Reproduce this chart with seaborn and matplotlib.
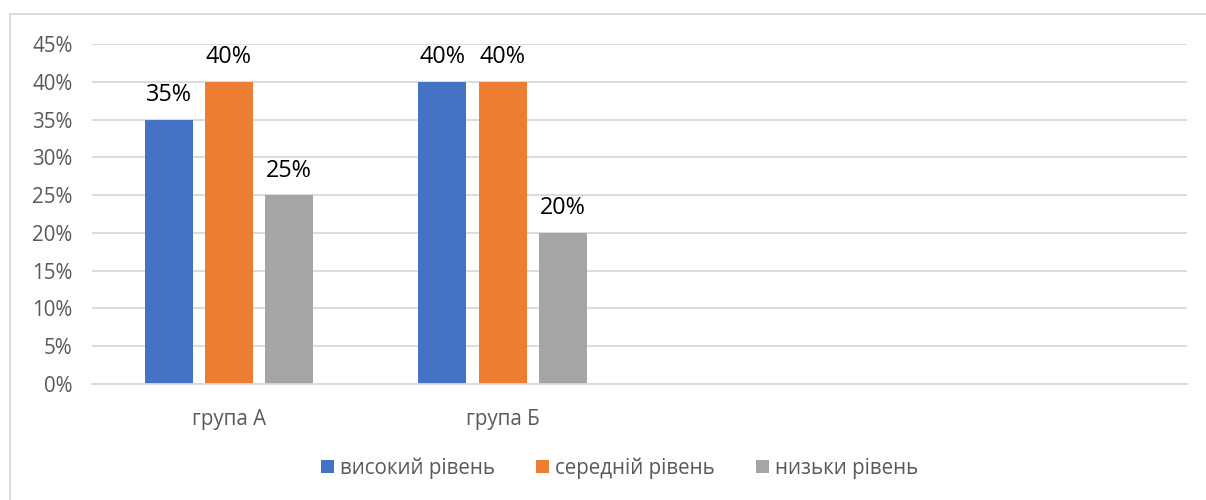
import matplotlib
matplotlib.use("Agg")
import matplotlib.pyplot as plt
from matplotlib.patches import Rectangle, Patch
from matplotlib.ticker import PercentFormatter
import seaborn as sns
import pandas as pd

groups = ["група А", "група Б"]
levels = ["високий рівень", "середній рівень", "низьки рівень"]
high = [0.35, 0.40]
medium = [0.40, 0.40]
low = [0.25, 0.20]
colors = ["#4472C4", "#ED7D31", "#A5A5A5"]
# two unused category slots keep the clusters on the left of the axis
order = groups + ["_c3", "_c4"]
tick_labels = groups + ["", ""]

rows = []
for lvl, vals in zip(levels, [high, medium, low]):
    for g, v in zip(groups, vals):
        rows.append({"group": g, "level": lvl, "value": v})
df = pd.DataFrame(rows)

sns.set_theme(style="white")
plt.rcParams["font.family"] = ["Open Sans", "DejaVu Sans"]

fig = plt.figure(figsize=(12.06, 5.0), dpi=100)
ax = fig.add_axes([92 / 1206, 1 - 384 / 500, (1187 - 92) / 1206, (384 - 44) / 500])

sns.barplot(data=df, x="group", y="value", hue="level", order=order,
            hue_order=levels, palette=colors, width=0.66, gap=0.2,
            saturation=1, linewidth=0, ax=ax, legend=False)

ax.set_ylim(0, 0.45)
ax.set_yticks([i * 0.05 for i in range(10)])
ax.yaxis.set_major_formatter(PercentFormatter(1.0, decimals=0))
ax.set_xticks(range(len(order)))
ax.set_xticklabels(tick_labels)
ax.set_xlabel("")
ax.set_ylabel("")
ax.grid(axis="y", color="#D9D9D9", linewidth=1.3)
ax.set_axisbelow(True)
for side in ["left", "right", "top"]:
    ax.spines[side].set_visible(False)
ax.spines["bottom"].set_color("#D9D9D9")
ax.spines["bottom"].set_linewidth(1.3)
ax.tick_params(axis="y", length=0, pad=14, labelsize=14.8, labelcolor="#595959")
ax.tick_params(axis="x", length=0, pad=18, labelsize=14.8, labelcolor="#595959")

for cont in ax.containers:
    ax.bar_label(cont, labels=[f"{v * 100:.0f}%" for v in cont.datavalues],
                 padding=9, fontsize=16.8, color="#000000")

handles = [Patch(facecolor=c, edgecolor="none") for c in colors]
fig.legend(handles, levels, loc="center", bbox_to_anchor=(0.514, 1 - 468 / 500),
           ncol=3, frameon=False, fontsize=14.8, handlelength=0.62, handleheight=0.62,
           handletextpad=0.3, columnspacing=2.0, labelcolor="#595959")

fig.patches.append(Rectangle((10 / 1206, -0.1), 1.2, 1.1 - 14 / 500,
                             transform=fig.transFigure, fill=False,
                             edgecolor="#D9D9D9", linewidth=1.3))

fig.savefig("out.png", dpi=100)
